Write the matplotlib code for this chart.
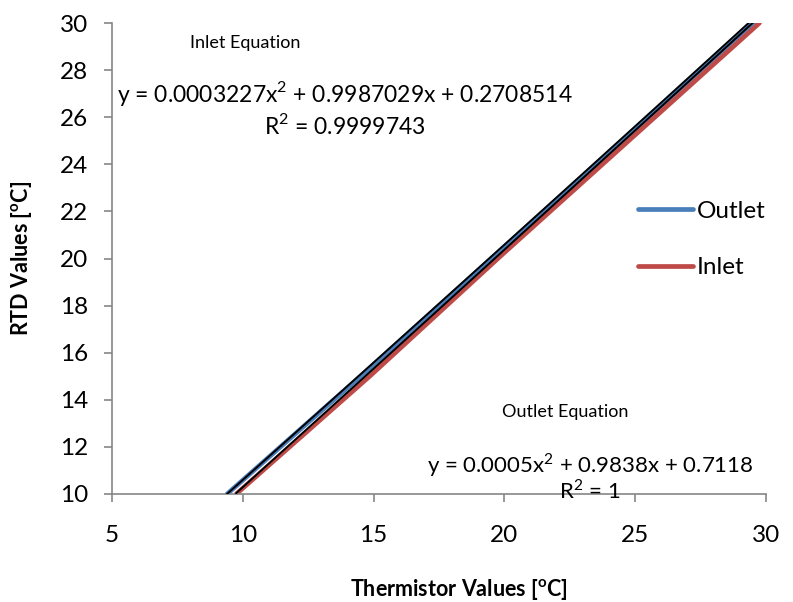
import matplotlib
matplotlib.use("Agg")
import matplotlib.pyplot as plt
import numpy as np

plt.rcParams['font.family'] = ['Lato', 'DejaVu Sans']
plt.rcParams['mathtext.fontset'] = 'custom'
plt.rcParams['mathtext.rm'] = 'Lato'
plt.rcParams['mathtext.bf'] = 'Lato:bold'

# Data
outlet_x = [9.4, 14.6, 19.7, 24.6, 29.6]
outlet_y = [10.0, 15.1, 20.2, 25.1, 30.1]
inlet_x = [9.75, 14.9, 19.85, 24.75, 29.75]
inlet_y = [10.0, 15.05, 20.1, 25.0, 30.0]

# Trendline coefficients (from the chart's equations)
outlet_coef = [0.0005, 0.9838, 0.7118]
inlet_coef = [0.0003227, 0.9987029, 0.2708514]

x_ticks = [5, 10, 15, 20, 25, 30]
y_ticks = [10, 12, 14, 16, 18, 20, 22, 24, 26, 28, 30]

fig = plt.figure(figsize=(7.93, 6.02), dpi=100)
ax = fig.add_axes([112/793, 1-494/602, (766-112)/793, (494-23)/602])

blue = '#4a7ebb'
red = '#be4b48'
ax.plot(outlet_x, outlet_y, color=blue, lw=3.4, solid_capstyle='round', label='Outlet', zorder=2)
ax.plot(inlet_x, inlet_y, color=red, lw=3.4, solid_capstyle='round', label='Inlet', zorder=2)

xo = np.linspace(outlet_x[0], outlet_x[-1], 100)
ax.plot(xo, np.polyval(outlet_coef, xo), color='black', lw=1.4, zorder=3)
xi = np.linspace(inlet_x[0], inlet_x[-1], 100)
ax.plot(xi, np.polyval(inlet_coef, xi), color='black', lw=1.4, zorder=3)

ax.set_xlim(5, 30)
ax.set_ylim(10, 30)
ax.set_xticks(x_ticks)
ax.set_yticks(y_ticks)
for s in ['top', 'right']:
    ax.spines[s].set_visible(False)
for s in ['left', 'bottom']:
    ax.spines[s].set_color('#868686')
    ax.spines[s].set_linewidth(1.2)
ax.tick_params(axis='both', colors='#868686', labelcolor='black', labelsize=17.5, length=6, width=1.2)
ax.tick_params(axis='x', pad=16)
ax.tick_params(axis='y', pad=11)

ax.set_xlabel('Thermistor Values [$\\mathbf{^o}$C]', fontsize=15.5, fontweight='bold')
ax.set_ylabel('RTD Values [$\\mathbf{^o}$C]', fontsize=15.5, fontweight='bold')
ax.xaxis.set_label_coords(0.5 + 20/654, (494-577)/471)
ax.yaxis.set_label_coords((34-112)/654, 0.5)

def px(x, y):
    return (x/793, 1 - y/602)

fig.text(*px(245, 43), 'Inlet Equation', fontsize=13, ha='center', va='center')
fig.text(*px(345, 93), 'y = 0.0003227x$^{2}$ + 0.9987029x + 0.2708514', fontsize=16.5, ha='center', va='center')
fig.text(*px(345, 125), 'R$^{2}$ = 0.9999743', fontsize=16.5, ha='center', va='center')
fig.text(*px(565, 412), 'Outlet Equation', fontsize=13, ha='center', va='center')
fig.text(*px(590, 465), 'y = 0.0005x$^{2}$ + 0.9838x + 0.7118', fontsize=16, ha='center', va='center')
fig.text(*px(590, 491), 'R$^{2}$ = 1', fontsize=16, ha='center', va='center')

leg = ax.legend(loc='upper left', bbox_to_anchor=(628/793, 1-191/602), bbox_transform=fig.transFigure,
                frameon=False, fontsize=17.5, handlelength=2.26, handletextpad=0.16, labelspacing=1.47,
                borderaxespad=0)

fig.savefig('out.png', dpi=100)
